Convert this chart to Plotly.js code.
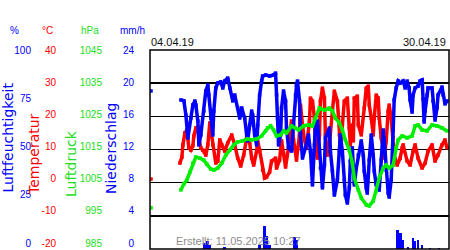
<!DOCTYPE html>
<html>
<head>
<meta charset="utf-8">
<script src="https://cdn.plot.ly/plotly-3.0.1.min.js"></script>
<style>html,body{margin:0;padding:0;background:#fff}#chart{width:450px;height:250px}</style>
</head>
<body>
<div id="chart"></div>
<script>
// Time is given in days since 2019-04-01 00:00 (null value = gap in the record)
const tempDay = [0.1,1.0,3.0,3.2,3.3,3.5,3.7,3.8,3.9,4.1,4.3,4.4,4.6,4.8,4.9,5.1,5.3,5.6,5.8,6.0,
  6.1,6.3,6.6,6.8,7.0,7.2,7.5,7.8,8.2,8.5,8.8,9.1,9.4,9.7,10.0,10.2,10.4,10.7,10.8,11.0,
  11.3,11.5,11.7,12.0,12.2,12.6,12.7,13.0,13.2,13.4,13.6,13.9,14.2,14.4,14.7,15.0,15.1,15.3,15.5,15.7,
  16.0,16.1,16.3,16.5,16.6,16.8,17.0,17.1,17.3,17.5,17.6,17.8,18.0,18.3,18.5,18.8,19.0,19.1,19.3,19.5,
  19.8,20.0,20.1,20.3,20.4,20.5,20.8,20.9,21.2,21.5,21.7,21.9,22.0,22.2,22.4,22.5,22.7,22.9,23.0,23.2,
  23.4,23.5,23.7,23.9,24.0,24.2,24.4,24.5,24.8,25.1,25.3,25.4,25.8,26.1,26.4,26.6,26.9,27.3,27.6,27.9,
  28.3,28.6,28.9,29.3,29.6,29.8];
const tempC = [1.1,null,5.9,7.7,11.4,15.0,15.9,13.5,10.5,9.8,11.1,14.1,16.5,16.8,13.5,10.5,9.8,8.3,11.4,18.0,
  15.9,11.4,5.9,6.5,12.9,11.4,9.5,12.0,14.4,11.4,7.4,5.0,8.3,13.5,12.0,7.4,5.3,9.5,12.6,9.8,
  3.8,1.4,1.7,3.2,6.5,7.4,4.4,6.8,12.6,8.9,4.7,10.5,18.6,12.9,6.8,14.4,23.4,17.4,12.9,10.5,
  18.6,25.5,24.6,19.5,10.5,7.4,14.4,24.6,28.5,25.5,14.4,8.3,11.4,21.6,27.6,24.6,14.4,11.4,17.4,24.6,
  25.5,16.5,11.4,17.4,12.6,25.5,26.1,17.4,14.4,22.5,28.5,29.1,23.4,19.5,14.4,19.5,26.4,25.5,19.5,13.5,
  10.5,7.4,12.6,21.6,23.4,19.5,13.5,8.3,5.3,7.4,10.5,11.4,6.5,5.3,9.5,11.4,7.4,4.4,5.9,9.5,
  11.4,6.5,8.3,11.4,12.9,10.5];

const humDay = [0.1,1.0,3.1,3.4,3.6,3.7,3.8,4.1,4.3,4.5,4.6,4.8,4.9,5.1,5.4,5.6,5.8,5.9,6.1,6.3,
  6.4,6.6,6.8,7.1,7.3,7.5,7.8,8.0,8.3,8.5,8.8,9.0,9.2,9.5,9.7,9.8,10.0,10.2,10.3,10.5,
  10.7,10.8,11.0,11.2,11.3,11.6,12.0,12.4,12.6,12.7,12.8,12.9,13.1,13.2,13.4,13.6,13.7,13.9,14.2,14.4,
  14.6,14.7,14.8,15.0,15.1,15.3,15.6,15.9,16.1,16.3,16.5,16.6,16.8,17.0,17.1,17.3,17.5,17.6,18.0,18.1,
  18.3,18.5,18.8,19.0,19.1,19.3,19.5,19.6,19.8,20.0,20.1,20.3,20.4,20.5,20.7,20.9,21.2,21.4,21.5,21.7,
  21.8,22.0,22.2,22.4,22.5,22.7,23.0,23.2,23.4,23.5,23.7,23.9,24.0,24.2,24.4,24.5,24.7,24.9,25.1,25.4,
  25.6,25.8,26.0,26.1,26.3,26.4,26.6,26.9,27.1,27.3,27.4,27.5,27.6,27.8,27.9,28.3,28.4,28.6,28.8,28.9,
  29.3,29.4,29.6,29.8];
const humPct = [79.4,null,74.9,74.4,67.3,59.3,55.8,65.8,72.4,74.4,72.4,64.3,52.3,57.3,69.3,79.4,82.4,77.4,65.8,57.3,
  69.3,80.9,83.4,83.9,80.9,84.4,85.9,80.9,74.4,77.4,70.9,65.8,70.9,65.8,57.3,54.3,62.3,69.3,67.3,57.3,
  52.3,62.3,77.4,84.4,86.9,87.4,86.9,87.4,88.4,77.4,65.8,52.3,57.3,70.9,79.4,74.4,60.8,50.8,49.2,62.3,
  77.4,82.4,84.4,74.4,57.3,45.7,50.8,57.3,49.2,32.2,52.3,62.3,64.3,49.2,40.7,30.7,42.2,55.8,60.8,49.2,
  39.2,27.1,34.7,49.2,57.3,49.2,34.7,27.1,23.1,30.7,44.2,50.8,40.7,32.2,40.7,47.2,54.3,47.2,39.2,30.7,
  28.1,44.7,57.3,47.2,39.2,32.2,29.6,44.7,59.8,54.8,39.7,28.1,26.1,34.7,59.8,74.9,80.9,84.4,83.4,84.4,
  80.9,84.4,80.9,74.9,68.8,77.4,80.9,81.9,84.4,84.9,75.4,63.8,69.3,77.4,80.9,80.9,74.4,64.8,70.9,77.4,
  81.4,77.4,72.9,74.4];

const pressDay = [0.1,1.0,3.1,3.4,3.7,4.0,4.3,4.6,5.0,5.4,5.7,6.1,6.4,6.8,7.2,7.6,8.0,8.4,8.8,9.3,
  9.8,10.2,10.7,11.2,11.6,11.8,12.1,12.4,12.7,13.1,13.4,13.7,14.2,14.6,14.9,15.4,15.9,16.3,16.6,17.0,
  17.5,18.0,18.3,18.6,19.0,19.3,19.6,20.0,20.3,20.5,20.9,21.2,21.7,22.0,22.4,22.7,23.0,23.4,23.7,24.0,
  24.4,24.7,24.9,25.3,25.8,26.3,26.6,26.9,27.3,27.8,28.3,28.8,29.3,29.8];
const pressHpa = [997.4,null,1002.8,1004.6,1005.8,1008.2,1010.9,1012.7,1012.4,1011.8,1010.6,1009.1,1008.8,1009.4,1010.9,1013.3,1014.8,1016.4,1017.3,1017.6,
  1018.2,1017.9,1018.2,1019.1,1020.6,1021.5,1022.1,1020.9,1019.1,1019.4,1020.6,1020.0,1022.1,1021.5,1020.9,1022.1,1022.4,1022.1,1024.5,1027.5,
  1026.9,1027.5,1026.6,1024.5,1023.0,1020.9,1017.9,1014.8,1010.9,1006.4,1002.8,1000.4,998.3,998.0,999.5,1002.5,1006.4,1009.4,1010.3,1009.4,
  1010.3,1015.5,1017.9,1019.1,1018.5,1019.1,1022.1,1022.4,1020.9,1020.6,1022.4,1022.1,1021.5,1020.6];

const rainDay = [5.5,5.8,6.0,7.5,11.0,11.5,11.7,12.0,14.5,14.7,24.8,25.1,25.3,25.9,26.4,26.6,26.9,27.3,28.1,29.0];
const rainMm  = [0.7,1.0,0.5,0.25,0.5,2.8,1.6,0.5,1.4,1.1,2.3,1.9,1.1,0.25,1.3,1.0,1.1,0.5,0.15,0.15];

const humTicks = [0,25,50,75,100];
const tempTicks = [-20,-10,0,10,20,30,40];
const pressTicks = [985,995,1005,1015,1025,1035,1045];
const rainTicks = [0,4,8,12,16,20,24];
const startLabel = '04.04.19', endLabel = '30.04.19';
const createdLabel = 'Erstellt: 11.05.2025 10:27';

function toDate(d){
  const t = new Date(Date.UTC(2019,3,1) + d*86400000);
  return t.toISOString().slice(0,16).replace('T',' ');
}

const W = 449, H = 199;               // plot paper size in px (margins l=0, r=1, t=50, b=1)
const px = x => x / W;
const py = y => (249 - y) / H;
// the original places its tick labels on a slightly shorter scale (top 50px .. 243px) than the grid
const LABEL_SCALE = 193 / H;

const BLUE='#0000ff', RED='#ff0000', GREEN='#00ee00', GREENTXT='#22dd22';
const FONT='Liberation Sans, Arial, sans-serif';

function series(days, vals, color, axis){
  return {type:'scatter', mode:'lines+markers', x:days.map(toDate), y:vals, yaxis:axis,
    connectgaps:false, line:{color:color, width:3.5}, marker:{color:color, size:3.5, symbol:'square'},
    hoverinfo:'skip'};
}

const traces = [
  series(tempDay, tempC, RED, 'y'),
  series(humDay, humPct, BLUE, 'y2'),
  series(pressDay, pressHpa, GREEN, 'y3'),
  {type:'bar', x:rainDay.map(toDate), y:rainMm, yaxis:'y4', width:0.27*86400000,
   marker:{color:BLUE, line:{width:0}}, hoverinfo:'skip'}
];

function yax(range, ticks, pos, color, extra){
  const top = range[1];
  return Object.assign({range:range, tickmode:'array',
    tickvals:ticks.map(v => top - (top - v) * LABEL_SCALE), ticktext:ticks.map(String),
    anchor:'free', position:pos, side:'left',
    showgrid:false, zeroline:false, showline:false, ticks:'',
    tickfont:{family:FONT, size:10, color:color}, fixedrange:true}, extra||{});
}

const ann = [];
function txt(t, x, y, color, opts){
  ann.push(Object.assign({text:t, xref:'paper', yref:'paper', x:px(x), y:py(y), showarrow:false,
    xanchor:'center', yanchor:'middle', font:{family:FONT, size:10, color:color}}, opts||{}));
}
txt('%', 14, 30, BLUE);
txt('°C', 47, 30, RED);
txt('hPa', 90, 30, GREENTXT);
txt('mm/h', 132, 30, BLUE);
const TF = {family:'DejaVu Sans, sans-serif', size:14};
txt('Luftfeuchtigkeit', 7.5, 138, BLUE, {textangle:-90, font:Object.assign({color:BLUE}, TF)});
txt('Temperatur', 34, 154, RED, {textangle:-90, font:Object.assign({color:RED}, TF)});
txt('Luftdruck', 71, 164, GREENTXT, {textangle:-90, font:Object.assign({color:GREENTXT}, TF)});
txt('Niederschlag', 111, 149, BLUE, {textangle:-90, font:Object.assign({color:BLUE}, TF)});
txt(startLabel, 149, 42, '#111', {xanchor:'left', font:{family:FONT, size:11, color:'#111'}});
txt(endLabel, 448, 42, '#111', {xanchor:'right', font:{family:FONT, size:11, color:'#111'}});
txt(createdLabel, 174, 241, '#8c8c8c', {xanchor:'left', font:{family:FONT, size:11, color:'#8c8c8c'}});

const layout = {
  width:450, height:250,
  margin:{l:0, r:1, t:50, b:1, pad:0},
  paper_bgcolor:'#ffffff', plot_bgcolor:'#ffffff',
  showlegend:false,
  font:{family:FONT, size:10},
  bargap:0,
  xaxis:{type:'date', range:[toDate(0), toDate(30)], domain:[150/W, 1], anchor:'y',
    showticklabels:false, showgrid:false, zeroline:false, ticks:'', showline:false, fixedrange:true},
  yaxis: yax([-20,40], tempTicks, px(56), RED,
    {minor:{tickmode:'linear', tick0:-20, dtick:10, showgrid:true, gridcolor:'#000000', gridwidth:1.5, ticks:''}}),
  yaxis2: yax([0,100], humTicks, px(31), BLUE, {overlaying:'y'}),
  yaxis3: yax([985,1045], pressTicks, px(102), GREENTXT, {overlaying:'y'}),
  yaxis4: yax([0,24], rainTicks, px(134), BLUE, {overlaying:'y'}),
  shapes:[{type:'rect', xref:'paper', yref:'paper', x0:150/W, x1:1, y0:0, y1:1,
    line:{color:'#000000', width:1.5}, layer:'above'}],
  annotations: ann
};

Plotly.newPlot('chart', traces, layout, {staticPlot:true, displayModeBar:false});
</script>
</body>
</html>
